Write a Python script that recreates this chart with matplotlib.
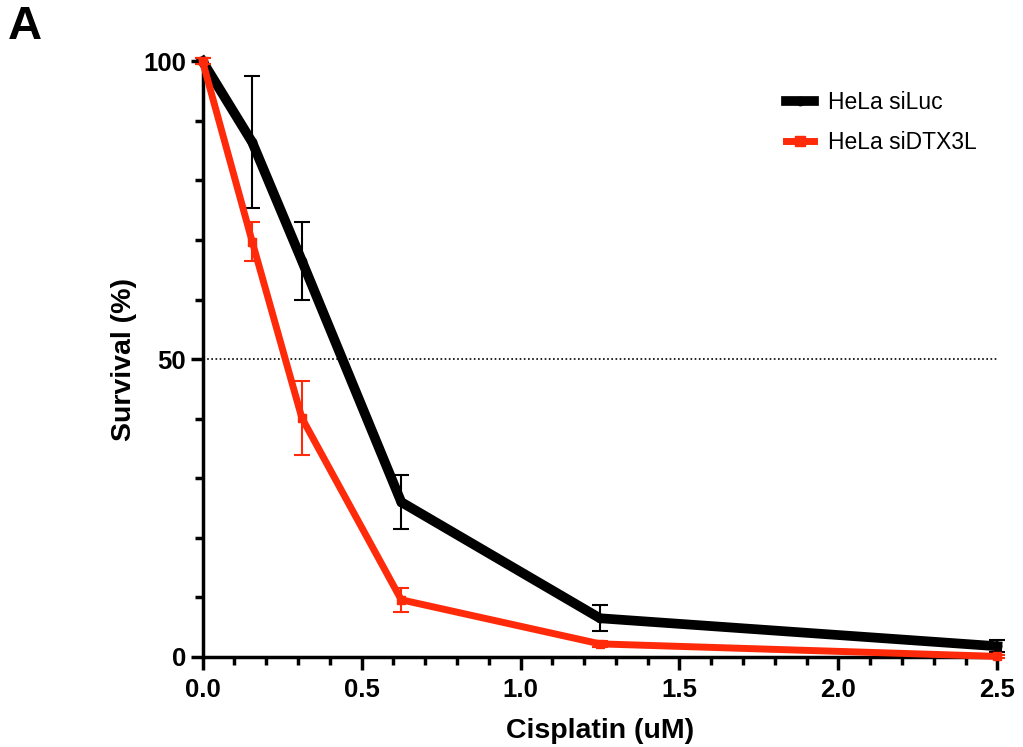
import matplotlib.pyplot as plt
from matplotlib.lines import Line2D
import numpy as np

# dados
cisplatina = [0.0, 0.15625, 0.3125, 0.625, 1.25, 2.5]
siluc_media = [100, 86.4, 66.5, 26.0, 6.5, 1.8]
siluc_erro = [0.5, 11.1, 6.5, 4.5, 2.2, 1.0]
sidtx_media = [100, 69.7, 40.1, 9.6, 2.2, 0.1]
sidtx_erro = [0.5, 3.3, 6.2, 2.0, 0.5, 0.3]
legendas = ['HeLa siLuc', 'HeLa siDTX3L']

plt.rcParams['font.family'] = ['Liberation Sans', 'DejaVu Sans']
vermelho = '#ff2a0a'

fig = plt.figure(figsize=(10.23, 7.47), dpi=100)
ax = fig.add_axes([0.198, 0.1205, 0.777, 0.7975])

# linha tracejada a 50%
ax.plot([0, 2.5], [50, 50], linestyle=(0, (1, 1.5)), color='black', linewidth=1.2, zorder=1)

ax.errorbar(cisplatina, siluc_media, yerr=siluc_erro, color='black', ecolor='black',
            linewidth=7, elinewidth=1.5, capsize=6, capthick=1.5, marker='o', markersize=6,
            clip_on=False, zorder=3)
ax.errorbar(cisplatina, sidtx_media, yerr=sidtx_erro, color=vermelho, ecolor=vermelho,
            linewidth=5, elinewidth=1.5, capsize=6, capthick=1.5, marker='s', markersize=6,
            clip_on=False, zorder=4)

ax.set_xlim(0, 2.5)
ax.set_ylim(0, 100)
ax.set_xticks([0, 0.5, 1.0, 1.5, 2.0, 2.5])
ax.set_xticklabels(['0.0', '0.5', '1.0', '1.5', '2.0', '2.5'])
ax.set_xticks(np.arange(0, 2.51, 0.1), minor=True)
ax.set_yticks([0, 50, 100])
ax.set_yticks(np.arange(0, 101, 10), minor=True)

for s in ['top', 'right']:
    ax.spines[s].set_visible(False)
for s in ['left', 'bottom']:
    ax.spines[s].set_linewidth(2.5)
ax.tick_params(which='major', length=9, width=2.5, labelsize=18.5, pad=6)
ax.tick_params(axis='y', which='major', pad=3)
ax.tick_params(which='minor', length=6, width=2.5)
for lbl in ax.get_xticklabels() + ax.get_yticklabels():
    lbl.set_fontweight('bold')

ax.set_xlabel('Cisplatin (uM)', fontsize=20.5, fontweight='bold', labelpad=12)
ax.set_ylabel('Survival (%)', fontsize=20.5, fontweight='bold', labelpad=4)

# legenda sem barras de erro
h1 = Line2D([], [], color='black', linewidth=7, marker='o', markersize=6)
h2 = Line2D([], [], color=vermelho, linewidth=5, marker='s', markersize=7)
ax.legend([h1, h2], legendas, loc='upper right', bbox_to_anchor=(1.0, 0.985), frameon=False,
          fontsize=16.5, handlelength=1.25, handletextpad=0.6, labelspacing=0.75)

fig.text(0.008, 0.948, 'A', fontsize=34, fontweight='bold')

plt.savefig('out.png', dpi=100)
